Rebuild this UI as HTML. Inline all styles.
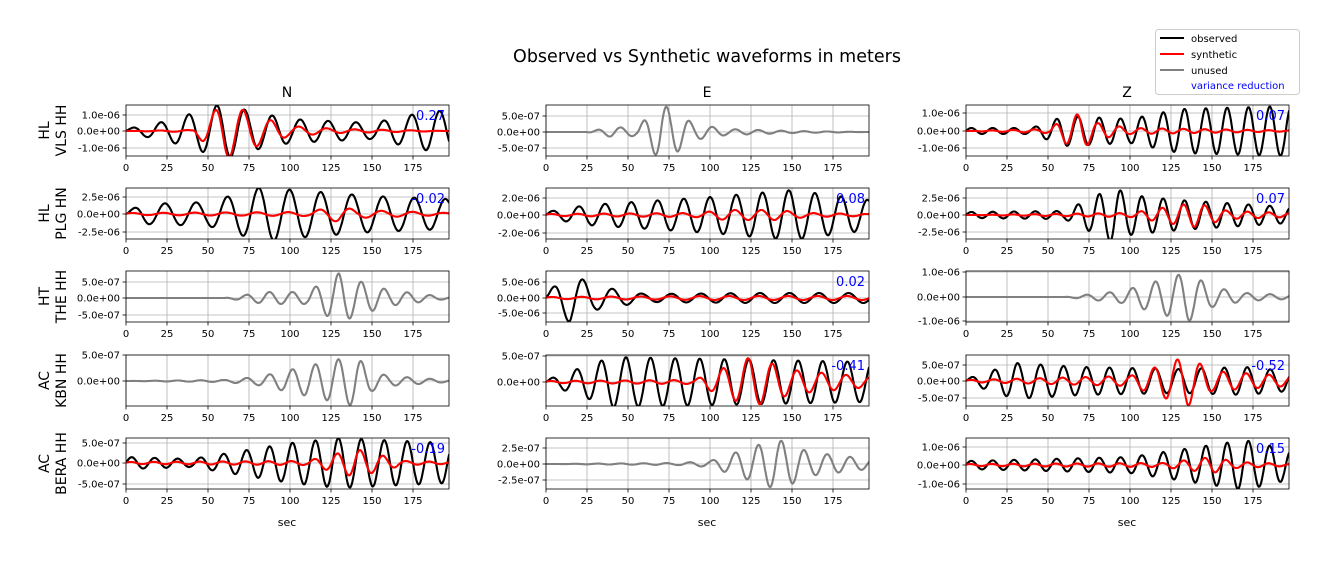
<!DOCTYPE html>
<html><head><meta charset="utf-8"><style>
body{margin:0;background:#fff}
svg text{font-family:"DejaVu Sans","Liberation Sans",sans-serif}
</style></head><body>
<svg id="s" width="1329" height="558" xmlns="http://www.w3.org/2000/svg">
<text x="707" y="62" font-size="17.5" text-anchor="middle">Observed vs Synthetic waveforms in meters</text>
<g font-size="14" text-anchor="middle"><text x="287" y="97">N</text><text x="707" y="97">E</text><text x="1127" y="97">Z</text></g>
<g font-size="11" text-anchor="middle"><text x="287" y="526">sec</text><text x="707" y="526">sec</text><text x="1127" y="526">sec</text></g>
<rect x="1155.5" y="29.5" width="144" height="65" rx="3" fill="#fff" stroke="#ccc"/>
<g font-size="10">
<line x1="1160" y1="38" x2="1184" y2="38" stroke="#000" stroke-width="2"/><text x="1191" y="42">observed</text>
<line x1="1160" y1="54" x2="1184" y2="54" stroke="red" stroke-width="2"/><text x="1191" y="58">synthetic</text>
<line x1="1160" y1="70" x2="1184" y2="70" stroke="gray" stroke-width="2"/><text x="1191" y="74">unused</text>
<text x="1191" y="89" fill="blue">variance reduction</text>
</g>
<g id="g"></g>
</svg>
<script>
var X0=[126,546,966],Y0=[105,188,271,355,438],W=323,H=51,SC=1.64;
var rows=[["HL","VLS HH"],["HL","PLG HN"],["HT","THE HH"],["AC","KBN HH"],["AC","BERA HH"]];
var P=[
[{t:[["1.0e-06",115],["0.0e+00",131],["-1.0e-06",148]],z:131,vr:"0.27",T:17,o:[[0,2],[25,10],[45,20],[60,28],[75,20],[100,12],[150,8],[185,20],[197,20]],s:[[0,0],[40,1],[50,15],[60,28],[70,22],[80,15],[100,5],[130,2],[197,0]]},
 {t:[["5.0e-07",116],["0.0e+00",132],["-5.0e-07",148]],z:132,u:1,T:14,o:[[0,0],[25,0],[40,5],[55,4],[70,28],[80,20],[90,8],[110,3],[150,1],[197,0]]},
 {t:[["1.0e-06",113],["0.0e+00",131],["-1.0e-06",148]],z:131,vr:"0.07",T:13,o:[[0,3],[40,3],[60,15],[100,12],[130,22],[197,25]],s:[[0,0],[50,2],[60,12],[70,18],[80,8],[100,3],[197,0.5]]}],
[{t:[["2.5e-06",197],["0.0e+00",214],["-2.5e-06",232]],z:214,vr:"-0.02",T:19,o:[[0,2],[10,10],[50,12],[85,28],[95,25],[150,18],[197,15]],s:[[0,1],[110,2],[130,8],[140,4],[197,1]]},
 {t:[["2.0e-06",198],["0.0e+00",215],["-2.0e-06",233]],z:215,vr:"0.08",T:16,o:[[0,3],[25,10],[100,18],[150,25],[197,15]],s:[[0,1],[90,2],[110,5],[140,5],[160,2],[197,1]]},
 {t:[["2.5e-06",198],["0.0e+00",215],["-2.5e-06",232]],z:215,vr:"0.07",T:13,o:[[0,3],[60,4],[90,28],[100,20],[130,15],[197,8]],s:[[0,0],[100,2],[130,10],[140,12],[160,4],[197,2]]}],
[{t:[["5.0e-07",282],["0.0e+00",298],["-5.0e-07",315]],z:298,u:1,T:14,o:[[0,0],[60,0],[85,6],[110,6],[130,25],[140,18],[160,8],[190,2],[197,1]]},
 {t:[["5.0e-06",282],["0.0e+00",298],["-5.0e-06",313]],z:298,vr:"0.02",T:18,o:[[0,5],[15,25],[30,12],[60,4],[130,5],[197,5]],s:[[0,1],[100,2],[197,2]]},
 {t:[["1.0e-06",272],["0.0e+00",297],["-1.0e-06",321]],z:297,u:1,T:14,o:[[0,0],[60,0],[95,6],[125,20],[135,25],[150,10],[170,4],[197,2]]}],
[{t:[["5.0e-07",355],["0.0e+00",381]],z:381,u:1,T:14,o:[[0,0],[60,1],[80,4],[130,22],[140,25],[150,10],[160,5],[197,1]]},
 {t:[["5.0e-07",356],["0.0e+00",382]],z:382,vr:"-0.41",T:15,o:[[0,2],[40,25],[197,20]],s:[[0,1],[90,2],[125,25],[135,20],[150,12],[197,5]]},
 {t:[["5.0e-07",365],["0.0e+00",381],["-5.0e-07",398]],z:381,vr:"-0.52",T:14,o:[[0,2],[30,18],[70,14],[130,12],[170,14],[197,10]],s:[[0,1],[100,5],[135,25],[150,10],[197,5]]}],
[{t:[["5.0e-07",443],["0.0e+00",463],["-5.0e-07",484]],z:463,vr:"-0.19",T:14,o:[[0,6],[40,4],[100,20],[130,25],[197,20]],s:[[0,1],[110,2],[140,14],[150,10],[170,2],[197,1]]},
 {t:[["2.5e-07",448],["0.0e+00",464],["-2.5e-07",480]],z:464,u:1,T:14,o:[[0,0],[80,1],[100,3],[140,25],[150,20],[160,12],[197,5]]},
 {t:[["1.0e-06",447],["0.0e+00",465],["-1.0e-06",484]],z:465,vr:"0.15",T:13,o:[[0,4],[100,8],[170,25],[197,15]],s:[[0,1],[120,2],[150,8],[165,3],[197,1]]}]
];
function env(p,t){for(var i=1;i<p.length;i++){if(t<=p[i][0]){var a=p[i-1],b=p[i];return a[1]+(b[1]-a[1])*(t-a[0])/(b[0]-a[0]);}}return p[p.length-1][1];}
function path(p,x0,z,T,ph){var d="";for(var t=0;t<=197;t+=0.5){var y=z-env(p,t)*Math.sin(2*Math.PI*t/T+ph);d+=(t?"L":"M")+(x0+t*SC).toFixed(1)+","+y.toFixed(1);}return d;}
var h="";
for(var r=0;r<5;r++){
 var yc=Y0[r]+H/2;
 h+='<text transform="translate(54,'+yc+') rotate(-90)" font-size="14" text-anchor="middle"><tspan x="0" dy="-5">'+rows[r][0]+'</tspan><tspan x="0" dy="17">'+rows[r][1]+'</tspan></text>';
 for(var c=0;c<3;c++){
  var x0=X0[c],y0=Y0[r],q=P[r][c];
  h+='<clipPath id="c'+r+c+'"><rect x="'+x0+'" y="'+y0+'" width="'+W+'" height="'+H+'"/></clipPath>';
  for(var v=0;v<=175;v+=25){var x=x0+v*SC;
   h+='<line x1="'+x+'" y1="'+y0+'" x2="'+x+'" y2="'+(y0+H)+'" stroke="#b0b0b0" stroke-width="0.8"/>';
   h+='<line x1="'+x+'" y1="'+(y0+H)+'" x2="'+x+'" y2="'+(y0+H+3.5)+'" stroke="#000" stroke-width="0.8"/>';
   h+='<text x="'+x+'" y="'+(y0+H+15)+'" font-size="10" text-anchor="middle">'+v+'</text>';}
  q.t.forEach(function(k){h+='<line x1="'+x0+'" y1="'+k[1]+'" x2="'+(x0+W)+'" y2="'+k[1]+'" stroke="#b0b0b0" stroke-width="0.8"/>';
   h+='<line x1="'+(x0-3.5)+'" y1="'+k[1]+'" x2="'+x0+'" y2="'+k[1]+'" stroke="#000" stroke-width="0.8"/>';
   h+='<text x="'+(x0-6)+'" y="'+(k[1]+3.5)+'" font-size="10" text-anchor="end">'+k[0]+'</text>';});
  h+='<g clip-path="url(#c'+r+c+')" fill="none" stroke-width="2.1" stroke-linejoin="round">';
  if(q.u){h+='<path d="'+path(q.o,x0,q.z,q.T,0)+'" stroke="gray"/>';}
  else{h+='<path d="'+path(q.o,x0,q.z,q.T,0)+'" stroke="#000"/><path d="'+path(q.s,x0,q.z,q.T,0.3)+'" stroke="red"/>';}
  h+='</g><rect x="'+x0+'" y="'+y0+'" width="'+W+'" height="'+H+'" fill="none" stroke="#000" stroke-width="0.8"/>';
  if(q.vr)h+='<text x="'+(x0+W-4)+'" y="'+(y0+15)+'" font-size="13" fill="blue" text-anchor="end">'+q.vr+'</text>';
 }}
document.getElementById("g").innerHTML=h;
</script>
</body></html>
